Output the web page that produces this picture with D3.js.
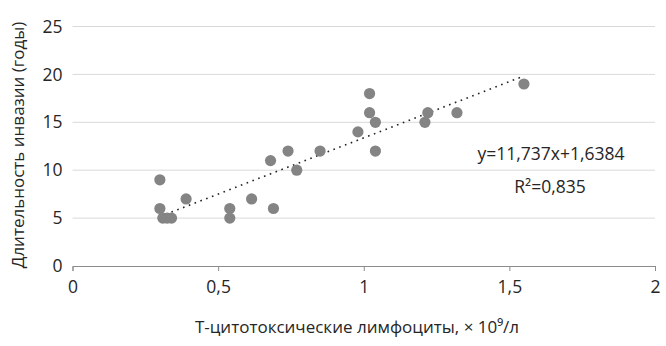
<!DOCTYPE html>
<html>
<head>
<meta charset="utf-8">
<script src="https://cdn.jsdelivr.net/npm/d3@7"></script>
<style>
  html, body { margin: 0; padding: 0; background: #fff; }
  svg { display: block; }
  text { font-family: "Open Sans", "Noto Sans", sans-serif; fill: #262626; }
</style>
</head>
<body>
<svg id="chart" width="666" height="346"></svg>
<script>
// T-cytotoxic lymphocytes (×10^9/l) vs. duration of invasion (years)
const tCells   = [0.30, 0.30, 0.31, 0.325, 0.34, 0.39, 0.54, 0.54, 0.615, 0.68, 0.69, 0.74, 0.77, 0.85, 0.98, 1.02, 1.02, 1.04, 1.04, 1.21, 1.22, 1.32, 1.55];
const duration = [9, 6, 5, 5, 5, 7, 6, 5, 7, 11, 6, 12, 10, 12, 14, 18, 16, 15, 12, 15, 16, 16, 19];

// Linear trend as reported on the chart
const slope = 11.737;
const intercept = 1.6384;
const equationLabel = "y=11,737x+1,6384";
const r2Label = "R²=0,835";

const xTicks = [0, 0.5, 1, 1.5, 2];
const yTicks = [0, 5, 10, 15, 20, 25];
const fmt = d => String(d).replace(".", ",");

const svg = d3.select("#chart");
const x = d3.scaleLinear().domain([0, 2]).range([72.5, 655]);
const y = d3.scaleLinear().domain([0, 25]).range([266, 26.5]);

// Horizontal gridlines
svg.append("g")
  .selectAll("line")
  .data(yTicks.filter(d => d > 0))
  .join("line")
  .attr("x1", x(0)).attr("x2", x(2))
  .attr("y1", d => y(d)).attr("y2", d => y(d))
  .attr("stroke", "#d9d9d9").attr("stroke-width", 1);

// X axis
const xAxis = svg.append("g")
  .attr("transform", `translate(0,${y(0)})`)
  .call(d3.axisBottom(x).tickValues(xTicks).tickFormat(fmt).tickSize(5).tickPadding(10));
xAxis.select(".domain").attr("stroke", "#8c8c8c");
xAxis.selectAll(".tick line").attr("stroke", "#8c8c8c");
xAxis.selectAll("text").attr("font-size", 17.5).attr("fill", "#262626")
  .style("font-family", '"Open Sans", "Noto Sans", sans-serif');

// Y axis (labels only)
const yAxis = svg.append("g")
  .attr("transform", `translate(${x(0)},0)`)
  .call(d3.axisLeft(y).tickValues(yTicks).tickSize(0).tickPadding(10));
yAxis.select(".domain").remove();
yAxis.selectAll("text").attr("font-size", 17.5).attr("fill", "#262626")
  .style("font-family", '"Open Sans", "Noto Sans", sans-serif');

// Trend line across the data range
const xMin = d3.min(tCells), xMax = d3.max(tCells);
svg.append("line")
  .attr("x1", x(xMin)).attr("y1", y(slope * xMin + intercept))
  .attr("x2", x(xMax)).attr("y2", y(slope * xMax + intercept))
  .attr("stroke", "#222").attr("stroke-width", 1.6)
  .attr("stroke-dasharray", "1.6,4.6");

// Points
svg.append("g")
  .selectAll("circle")
  .data(tCells.map((v, i) => [v, duration[i]]))
  .join("circle")
  .attr("cx", d => x(d[0]))
  .attr("cy", d => y(d[1]))
  .attr("r", 5.6)
  .attr("fill", "#848484");

// Trend equation and R²
svg.append("text")
  .attr("x", 551).attr("y", 160)
  .attr("text-anchor", "middle").attr("font-size", 17.5)
  .text(equationLabel);
svg.append("text")
  .attr("x", 550).attr("y", 193)
  .attr("text-anchor", "middle").attr("font-size", 17.5)
  .text(r2Label);

// Axis titles
svg.append("text")
  .attr("transform", `translate(24,145) rotate(-90)`)
  .attr("text-anchor", "middle").attr("font-size", 17)
  .text("Длительность инвазии (годы)");
svg.append("text")
  .attr("x", 357).attr("y", 333)
  .attr("text-anchor", "middle").attr("font-size", 17)
  .text("T-цитотоксические лимфоциты, × 10⁹/л");
</script>
</body>
</html>
